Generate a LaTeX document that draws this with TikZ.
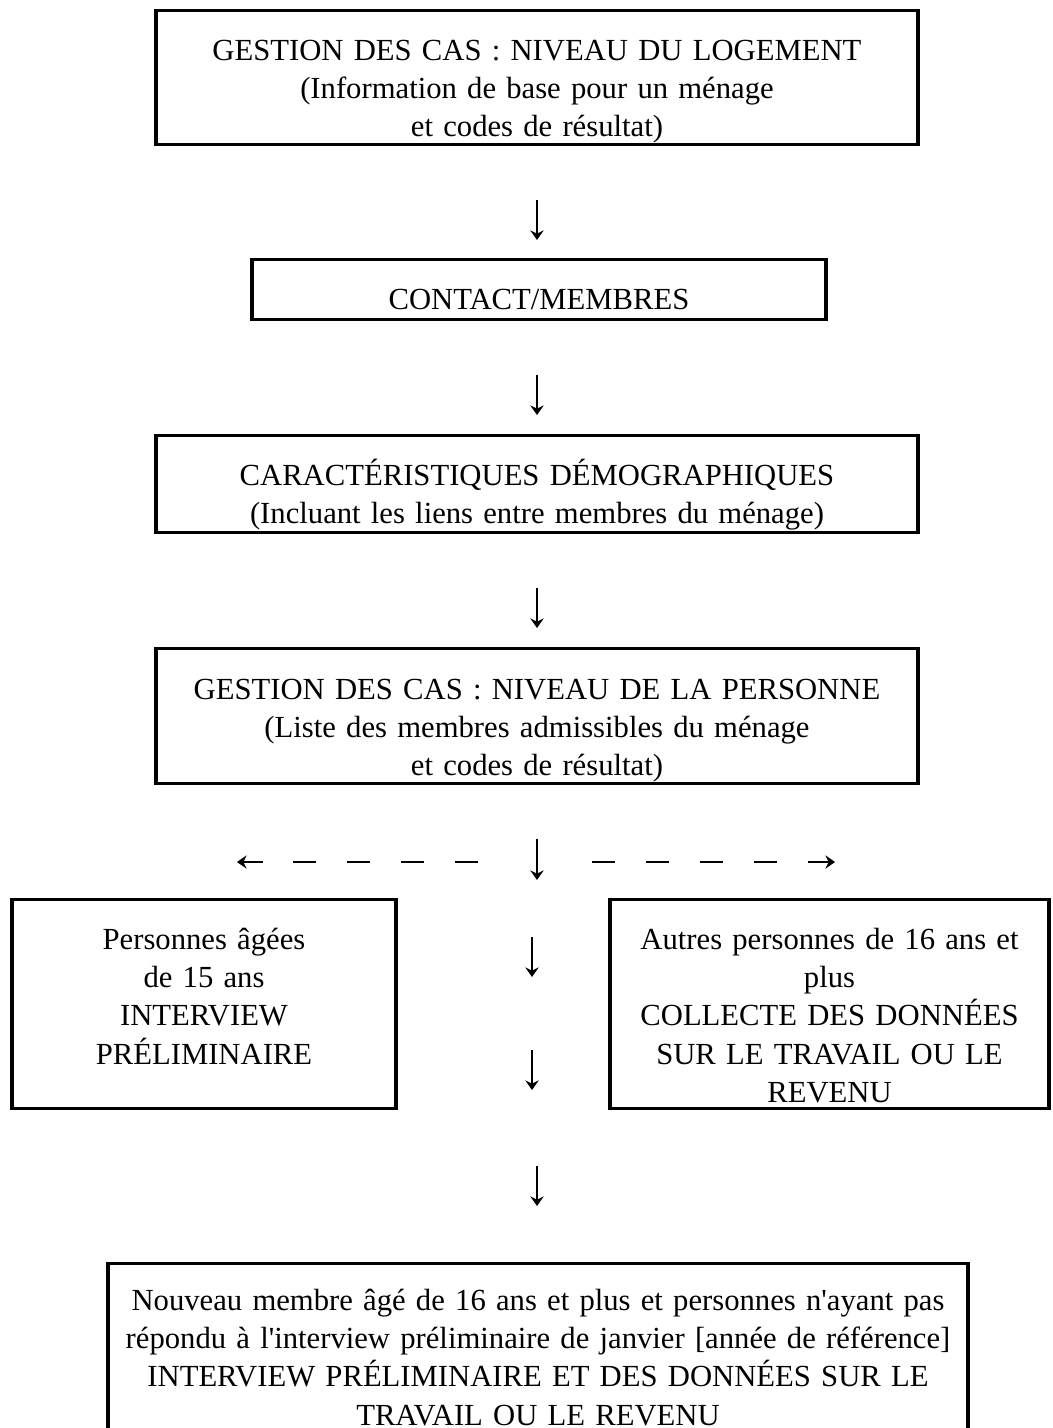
\documentclass[tikz,border=0pt]{standalone}
\usepackage{fontspec}
\setmainfont{Liberation Serif}[Ligatures=TeXOff]
\usetikzlibrary{arrows.meta}

\def\ux{0.375pt}

\begin{document}
\begin{tikzpicture}[->,>={Stealth[length=3.6pt,width=5pt,inset=1.2pt]},x=0.375pt,y=-0.375pt,
  box/.style={draw,-,line width=1.25pt,anchor=north,align=center,inner sep=0pt,
    text height=18.75pt,font=\fontsize{11.5}{14.3}\selectfont},
  boxw/.style={text width=#1*\ux},
  flow/.style={line width=0.5pt},
  dashes/.style={-,line width=0.7pt,dash pattern=on 8.625pt off 11.625pt}]
  \useasboundingbox (0,0) rectangle (1052,1428);

  \node[box,boxw=762,text depth=31.5pt] (logement) at (537,9)
    {GESTION DES CAS : NIVEAU DU LOGEMENT\\(Information de base pour un ménage\\et codes de résultat)};
  \node[box,boxw=574,text height=18.56pt,text depth=3.94pt] (contact) at (539,258) {CONTACT/MEMBRES};
  \node[box,boxw=762,text height=18.56pt,text depth=17.81pt] (demo) at (537,434)
    {CARACTÉRISTIQUES DÉMOGRAPHIQUES\\(Incluant les liens entre membres du ménage)};
  \node[box,boxw=762,text height=18.94pt,text depth=31.69pt] (personne) at (537,647)
    {GESTION DES CAS : NIVEAU DE LA PERSONNE\\(Liste des membres admissibles du ménage\\et codes de résultat)};
  \node[box,boxw=384,text depth=59.63pt] (quinze) at (204,898)
    {Personnes âgées\\de 15 ans\\INTERVIEW\\PRÉLIMINAIRE};
  \node[box,boxw=439,text depth=59.63pt] (autres) at (829.5,898)
    {Autres personnes de 16 ans et\\plus\\COLLECTE DES DONNÉES\\SUR LE TRAVAIL OU LE\\REVENU};
  \node[box,boxw=860,text height=17.63pt,text depth=52.9pt] (nouveau) at (538,1262)
    {Nouveau membre âgé de 16 ans et plus et personnes n\textquotesingle ayant pas\\répondu à l\textquotesingle interview préliminaire de janvier [année de référence]\\INTERVIEW PRÉLIMINAIRE ET DES DONNÉES SUR LE\\TRAVAIL OU LE REVENU};

  \coordinate (a1) at (537,200);  \coordinate (b1) at (537,240);
  \coordinate (a2) at (537,375);  \coordinate (b2) at (537,415);
  \coordinate (a3) at (537,588);  \coordinate (b3) at (537,628);
  \coordinate (a4) at (537,839);  \coordinate (b4) at (537,880);
  \coordinate (a5) at (532,937);  \coordinate (b5) at (532,977);
  \coordinate (a6) at (532,1050); \coordinate (b6) at (532,1090);
  \coordinate (a7) at (537,1166); \coordinate (b7) at (537,1206);
  \coordinate (lefta) at (263,862); \coordinate (leftb) at (237,862);
  \coordinate (righta) at (808,862); \coordinate (rightb) at (835,862);
  \coordinate (ldash1) at (293,862); \coordinate (ldash2) at (478,862);
  \coordinate (rdash1) at (592,862); \coordinate (rdash2) at (777,862);

  \draw[flow] (a1) -- (b1);
  \draw[flow] (a2) -- (b2);
  \draw[flow] (a3) -- (b3);
  \draw[flow] (a4) -- (b4);
  \draw[flow] (a5) -- (b5);
  \draw[flow] (a6) -- (b6);
  \draw[flow] (a7) -- (b7);
  \draw[flow] (lefta) -- (leftb);
  \draw[flow] (righta) -- (rightb);
  \draw[dashes] (ldash1) -- (ldash2);
  \draw[dashes] (rdash1) -- (rdash2);
\end{tikzpicture}
\end{document}
